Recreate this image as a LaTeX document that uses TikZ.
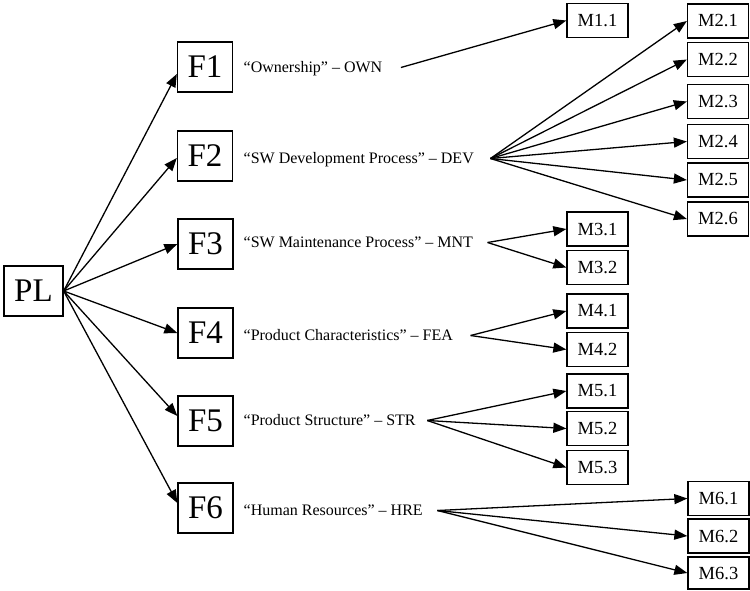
\documentclass[tikz,border=0pt]{standalone}
\usepackage{fontspec}
\setmainfont{Liberation Serif}
\usetikzlibrary{arrows.meta,calc}
\begin{document}
\begin{tikzpicture}[x=1pt,y=-1pt,
  line width=1.3pt,
  bigbox/.style={draw, line width=1.3pt, minimum width=55pt, minimum height=50pt, inner sep=0pt,
    font=\fontsize{33}{33}\selectfont},
  mbox/.style={draw, line width=1.3pt, minimum width=61pt, minimum height=34pt, inner sep=0pt,
    font=\fontsize{18.5}{18.5}\selectfont},
  lbl/.style={anchor=base west, inner sep=0pt, font=\fontsize{16}{16}\selectfont},
  link/.style={-{Triangle[length=13pt,width=10pt]}, line width=1.3pt},
]
\useasboundingbox (0,0) rectangle (750,590);

% root and first-level factors
\node[bigbox, minimum width=59pt] (PL) at (33.5,291) {PL};
\node[bigbox] (F1) at (205,67) {F1};
\node[bigbox] (F2) at (205,156) {F2};
\node[bigbox] (F3) at (205.5,244) {F3};
\node[bigbox] (F4) at (205.5,333) {F4};
\node[bigbox] (F5) at (205.5,421) {F5};
\node[bigbox] (F6) at (205.5,508) {F6};

% factor descriptions
\node[lbl] (L1) at (243,72.5) {“Ownership” – OWN};
\node[lbl] (L2) at (243,163.5) {“SW Development Process” – DEV};
\node[lbl] (L3) at (243,247.5) {“SW Maintenance Process” – MNT};
\node[lbl] (L4) at (243,340.5) {“Product Characteristics” – FEA};
\node[lbl] (L5) at (243,425.5) {“Product Structure” – STR};
\node[lbl] (L6) at (243,515.5) {“Human Resources” – HRE};

% branching points after each description
\coordinate (S1) at ($(L1.base east)+(18,-5)$);
\coordinate (S2) at ($(L2.base east)+(16,-5)$);
\coordinate (S3) at ($(L3.base east)+(14,-5)$);
\coordinate (S4) at ($(L4.base east)+(17,-5)$);
\coordinate (S5) at ($(L5.base east)+(11,-5)$);
\coordinate (S6) at ($(L6.base east)+(14,-5)$);

% metrics
\node[mbox] (M11) at (597.5,20.5) {M1.1};
\node[mbox] (M21) at (718,21) {M2.1};
\node[mbox] (M22) at (718,59.5) {M2.2};
\node[mbox] (M23) at (718,101.5) {M2.3};
\node[mbox] (M24) at (718,141.5) {M2.4};
\node[mbox] (M25) at (718,180) {M2.5};
\node[mbox] (M26) at (718,219) {M2.6};
\node[mbox] (M31) at (597.5,229) {M3.1};
\node[mbox] (M32) at (597.5,267.5) {M3.2};
\node[mbox] (M41) at (597.5,311) {M4.1};
\node[mbox] (M42) at (597.5,349.5) {M4.2};
\node[mbox] (M51) at (597.5,391) {M5.1};
\node[mbox] (M52) at (597.5,428.5) {M5.2};
\node[mbox] (M53) at (597.5,467.5) {M5.3};
\node[mbox] (M61) at (718.5,498.5) {M6.1};
\node[mbox] (M62) at (718.5,536) {M6.2};
\node[mbox, minimum height=32pt] (M63) at (718.5,573) {M6.3};

% root to factors
\draw[link] (PL.east) -- ([yshift=-7pt]F1.west);
\draw[link] (PL.east) -- ([yshift=-2pt]F2.west);
\draw[link] (PL.east) -- (F3.west);
\draw[link] (PL.east) -- (F4.west);
\draw[link] (PL.east) -- ([yshift=5pt]F5.west);
\draw[link] (PL.east) -- ([yshift=5pt]F6.west);

% factors to metrics
\draw[link] (S1) -- (M11.west);
\foreach \m in {M21,M22,M23,M24,M25,M26} \draw[link] (S2) -- (\m.west);
\foreach \m in {M31,M32} \draw[link] (S3) -- (\m.west);
\foreach \m in {M41,M42} \draw[link] (S4) -- (\m.west);
\foreach \m in {M51,M52,M53} \draw[link] (S5) -- (\m.west);
\foreach \m in {M61,M62,M63} \draw[link] (S6) -- (\m.west);
\end{tikzpicture}
\end{document}
